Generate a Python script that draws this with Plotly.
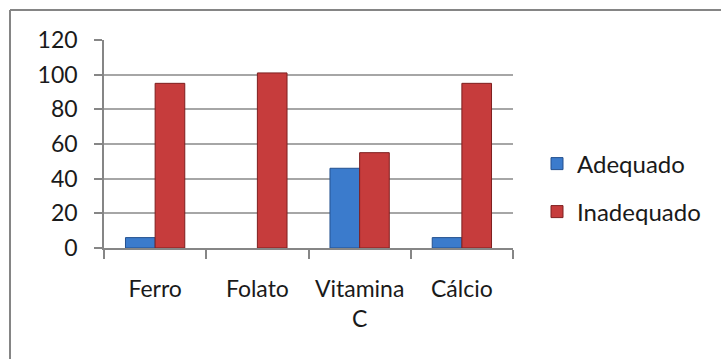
import plotly.graph_objects as go

# Nutrient intake adequacy (%) per nutrient
categories = ["Ferro", "Folato", "Vitamina<br>C", "Cálcio"]
adequado = [6, 0, 46, 6]
inadequado = [95, 101, 55, 95]
y_ticks = [0, 20, 40, 60, 80, 100, 120]

W, H = 721, 359
L, R, T, B = 104, 208, 40, 111
pw, ph = W - L - R, H - T - B

FONT = "Lato"
TXT = "#1a1a1a"
AXIS = "#868686"
GRID = "#a6a6a6"


def edge_widths(values):
    # no outline on empty bars
    return [1 if v else 0 for v in values]


fig = go.Figure()
fig.add_trace(go.Bar(
    x=categories, y=adequado, name="Adequado",
    marker=dict(color="#3b7bcc",
                line=dict(color="#24518f", width=edge_widths(adequado))),
    legend="legend",
))
fig.add_trace(go.Bar(
    x=categories, y=inadequado, name="Inadequado",
    marker=dict(color="#c63c3c",
                line=dict(color="#7e1f1f", width=edge_widths(inadequado))),
    legend="legend2",
))

# chart frame (top and left edges visible)
fx0 = (10 - L) / pw
fy0 = (H - B - 10) / ph
fig.add_shape(type="line", xref="paper", yref="paper",
              x0=fx0, y0=fy0, x1=(W + 5 - L) / pw, y1=fy0,
              line=dict(color="#858585", width=2))
fig.add_shape(type="line", xref="paper", yref="paper",
              x0=fx0, y0=fy0, x1=fx0, y1=(H - B - H - 5) / ph,
              line=dict(color="#858585", width=2))

legend_style = dict(
    xanchor="left", yanchor="middle",
    font=dict(family=FONT, size=24, color=TXT),
    bgcolor="rgba(0,0,0,0)", itemwidth=30,
)

fig.update_layout(
    width=W, height=H,
    margin=dict(l=L, r=R, t=T, b=B, autoexpand=False),
    paper_bgcolor="white", plot_bgcolor="white",
    barmode="group", bargap=0.42, bargroupgap=0,
    showlegend=True,
    legend=dict(x=(537 - L) / pw, y=(H - B - 164) / ph, **legend_style),
    legend2=dict(x=(537 - L) / pw, y=(H - B - 212) / ph, **legend_style),
    font=dict(family=FONT, size=23, color=TXT),
)
fig.update_yaxes(
    range=[0, 120], tickvals=y_ticks, ticktext=[str(v) for v in y_ticks],
    showgrid=True, gridcolor=GRID, gridwidth=1.5,
    showline=True, linecolor=AXIS, linewidth=1.5,
    ticks="outside", ticklen=8, tickcolor=AXIS, tickwidth=1.5,
    ticklabelstandoff=12, automargin=False,
    tickfont=dict(family=FONT, size=23, color=TXT),
    zeroline=False, fixedrange=True,
)
fig.update_xaxes(
    showline=True, linecolor=AXIS, linewidth=1.5,
    ticks="outside", ticklen=9, tickcolor=AXIS, tickwidth=1.5,
    tickson="boundaries", ticklabelstandoff=20, tickangle=0,
    automargin=False,
    tickfont=dict(family=FONT, size=23, color=TXT),
    showgrid=False, fixedrange=True,
)

fig.write_html("out.html")
